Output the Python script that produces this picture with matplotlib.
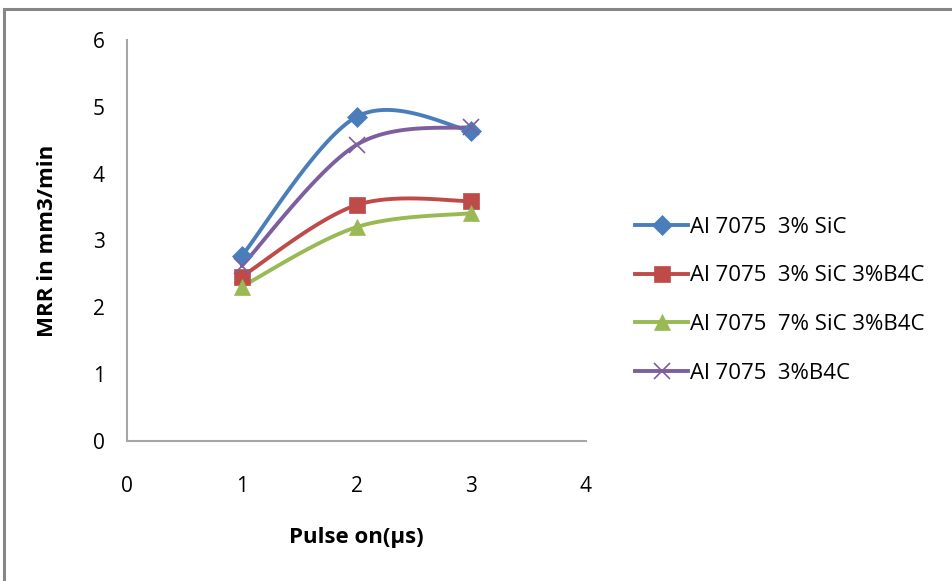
import numpy as np
import matplotlib
matplotlib.use("Agg")
import matplotlib.pyplot as plt
from matplotlib.lines import Line2D
from matplotlib.patches import Rectangle

plt.rcParams['font.family'] = ['Open Sans', 'DejaVu Sans']

pulse_on = [1, 2, 3]
series_names = ["Al 7075  3% SiC", "Al 7075  3% SiC 3%B4C",
                "Al 7075  7% SiC 3%B4C", "Al 7075  3%B4C"]
mrr_sic3 = [2.77, 4.85, 4.64]
mrr_sic3_b4c3 = [2.46, 3.53, 3.59]
mrr_sic7_b4c3 = [2.31, 3.20, 3.41]
mrr_b4c3 = [2.62, 4.43, 4.70]

colors = ["#4A7EBB", "#BE4B48", "#98B954", "#7D5FA0"]
markers = ["D", "s", "^", "x"]
msizes = [10, 12, 12, 12]


def excel_smooth(x, y, n=60):
    x = np.asarray(x, float)
    y = np.asarray(y, float)
    P = np.column_stack([x, y])
    out = []
    m = len(P)
    for i in range(m - 1):
        p0 = P[i - 1] if i > 0 else P[i]
        p1 = P[i]
        p2 = P[i + 1]
        p3 = P[i + 2] if i + 2 < m else P[i + 1]
        c1 = p1 + (p2 - p0) / 6.0
        c2 = p2 - (p3 - p1) / 6.0
        t = np.linspace(0, 1, n)[:, None]
        seg = ((1 - t) ** 3) * p1 + 3 * ((1 - t) ** 2) * t * c1 + 3 * (1 - t) * t ** 2 * c2 + t ** 3 * p2
        out.append(seg if i == 0 else seg[1:])
    pts = np.vstack(out)
    return pts[:, 0], pts[:, 1]


fig = plt.figure(figsize=(9.52, 5.81), dpi=100)
ax = fig.add_axes([127 / 952, 1 - 441 / 581, (586 - 127) / 952, (441 - 40) / 581])

all_series = [mrr_sic3, mrr_sic3_b4c3, mrr_sic7_b4c3, mrr_b4c3]
for i in range(4):
    ys = all_series[i]
    sx, sy = excel_smooth(pulse_on, ys)
    ax.plot(sx, sy, color=colors[i], lw=2.8, solid_capstyle='round', zorder=2 + i * 0.1)
    ax.plot(pulse_on, ys, linestyle='none', marker=markers[i], ms=msizes[i],
            color=colors[i], mec=colors[i], mew=1.2 if markers[i] == 'x' else 0.5,
            zorder=3 + i * 0.1)

ax.set_xlim(0, 4)
ax.set_ylim(0, 6)
ax.set_xticks([0, 1, 2, 3, 4])
ax.set_yticks([0, 1, 2, 3, 4, 5, 6])
ax.tick_params(length=0, labelsize=15, colors='#000000')
ax.tick_params(axis='y', pad=16)
ax.tick_params(axis='x', pad=25)
for s in ['top', 'right']:
    ax.spines[s].set_visible(False)
for s in ['left', 'bottom']:
    ax.spines[s].set_color('#A6A6A6')
    ax.spines[s].set_linewidth(1.5)

ax.set_xlabel("Pulse on(μs)", fontsize=16, fontweight='bold', labelpad=22)
ax.set_ylabel("MRR in mm3/min", fontsize=16, fontweight='bold', labelpad=25)

handles = [Line2D([0], [0], color=colors[i], lw=2.8, marker=markers[i], ms=msizes[i],
                  mec=colors[i], mew=1.2 if markers[i] == 'x' else 0.5)
           for i in range(4)]
fig.legend(handles, series_names, loc='upper left', bbox_to_anchor=(626 / 952, 1 - 208 / 581),
           frameon=False, fontsize=16, handlelength=2.4, handletextpad=0.1,
           labelspacing=1.24, borderaxespad=0)

fig.patches.append(Rectangle((4 / 952, -0.05), 1.2, 1 - 9 / 581 + 0.05, transform=fig.transFigure,
                             fill=False, edgecolor='#868686', lw=2.2, zorder=10))

fig.savefig("out.png", dpi=100)
